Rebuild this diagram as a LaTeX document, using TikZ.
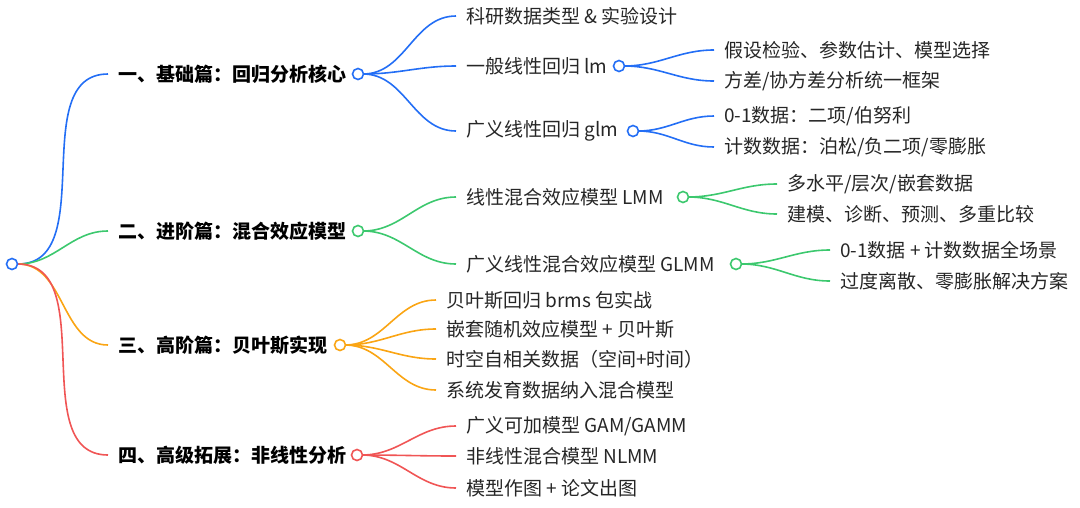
\documentclass[tikz,border=0pt]{standalone}
\usepackage{fontspec}
\setmainfont{Noto Sans CJK SC}
\begin{document}
\begin{tikzpicture}[x=1pt,y=-1pt,
  lbl/.style={anchor=west,inner sep=0pt,font=\fontsize{19}{19}\selectfont,text=black!85},
  blbl/.style={lbl,font=\fontsize{19}{19}\selectfont\bfseries,text=black},
  dot/.style={circle,draw=#1,fill=white,line width=1.6pt,minimum size=11pt,inner sep=0pt},
  ln/.style={draw=#1,line width=1.6pt},
  cb/.style={ln=cB},cg/.style={ln=cG},co/.style={ln=cO},cr/.style={ln=cR}]
\definecolor{cB}{RGB}{35,110,245}
\definecolor{cG}{RGB}{60,200,110}
\definecolor{cO}{RGB}{250,165,20}
\definecolor{cR}{RGB}{240,85,85}
\useasboundingbox (0,0) rectangle (1080,507);
\newcommand\ed[3]{\draw[#1] (#2) to[out=0,in=180] ([xshift=-10pt]#3.west);}
\node[blbl] (b1) at (118,74) {一、基础篇：回归分析核心};
\node[blbl] (b2) at (118,231) {二、进阶篇：混合效应模型};
\node[blbl] (b3) at (118,345) {三、高阶篇：贝叶斯实现};
\node[blbl] (b4) at (118,455) {四、高级拓展：非线性分析};
\ed{cb}{18,264}{b1}
\ed{cg}{18,264}{b2}
\ed{co}{18,264}{b3}
\ed{cr}{18,264}{b4}
\node[dot=cB] (r) at (12,264) {};
% blue
\node[lbl] (a1) at (466,16) {科研数据类型 \& 实验设计};
\node[lbl] (a2) at (466,66) {一般线性回归 lm};
\node[lbl] (a3) at (466,131) {广义线性回归 glm};
\node[lbl] (a21) at (724,50) {假设检验、参数估计、模型选择};
\node[lbl] (a22) at (724,81) {方差/协方差分析统一框架};
\node[lbl] (a31) at (724,116) {0-1数据：二项/伯努利};
\node[lbl] (a32) at (724,147) {计数数据：泊松/负二项/零膨胀};
\coordinate (p1) at (363,74);
\ed{cb}{p1}{a1}\ed{cb}{p1}{a2}\ed{cb}{p1}{a3}
\coordinate (p2) at (624,66);
\ed{cb}{p2}{a21}\ed{cb}{p2}{a22}
\coordinate (p3) at (638,131);
\ed{cb}{p3}{a31}\ed{cb}{p3}{a32}
\node[dot=cB] at (358,74) {};
\node[dot=cB] at (619,66) {};
\node[dot=cB] at (633,131) {};
% green
\node[lbl] (g1) at (466,197) {线性混合效应模型 LMM};
\node[lbl] (g2) at (466,264) {广义线性混合效应模型 GLMM};
\node[lbl] (g11) at (787,184) {多水平/层次/嵌套数据};
\node[lbl] (g12) at (787,214) {建模、诊断、预测、多重比较};
\node[lbl] (g21) at (840,250) {0-1数据 + 计数数据全场景};
\node[lbl] (g22) at (840,281) {过度离散、零膨胀解决方案};
\coordinate (q1) at (363,231);
\ed{cg}{q1}{g1}\ed{cg}{q1}{g2}
\coordinate (q2) at (688,197);
\ed{cg}{q2}{g11}\ed{cg}{q2}{g12}
\coordinate (q3) at (741,264);
\ed{cg}{q3}{g21}\ed{cg}{q3}{g22}
\node[dot=cG] at (358,231) {};
\node[dot=cG] at (683,197) {};
\node[dot=cG] at (736,264) {};
% orange
\node[lbl] (o1) at (446,300) {贝叶斯回归 brms 包实战};
\node[lbl] (o2) at (446,329) {嵌套随机效应模型 + 贝叶斯};
\node[lbl] (o3) at (446,359) {时空自相关数据（空间+时间）};
\node[lbl] (o4) at (446,390) {系统发育数据纳入混合模型};
\coordinate (s1) at (345,345);
\ed{co}{s1}{o1}\ed{co}{s1}{o2}\ed{co}{s1}{o3}\ed{co}{s1}{o4}
\node[dot=cO] at (340,345) {};
% red
\node[lbl] (r1) at (466,426) {广义可加模型 GAM/GAMM};
\node[lbl] (r2) at (466,456) {非线性混合模型 NLMM};
\node[lbl] (r3) at (466,488) {模型作图 + 论文出图};
\coordinate (t1) at (362,455);
\ed{cr}{t1}{r1}\ed{cr}{t1}{r2}\ed{cr}{t1}{r3}
\node[dot=cR] at (357,455) {};
\end{tikzpicture}
\end{document}
